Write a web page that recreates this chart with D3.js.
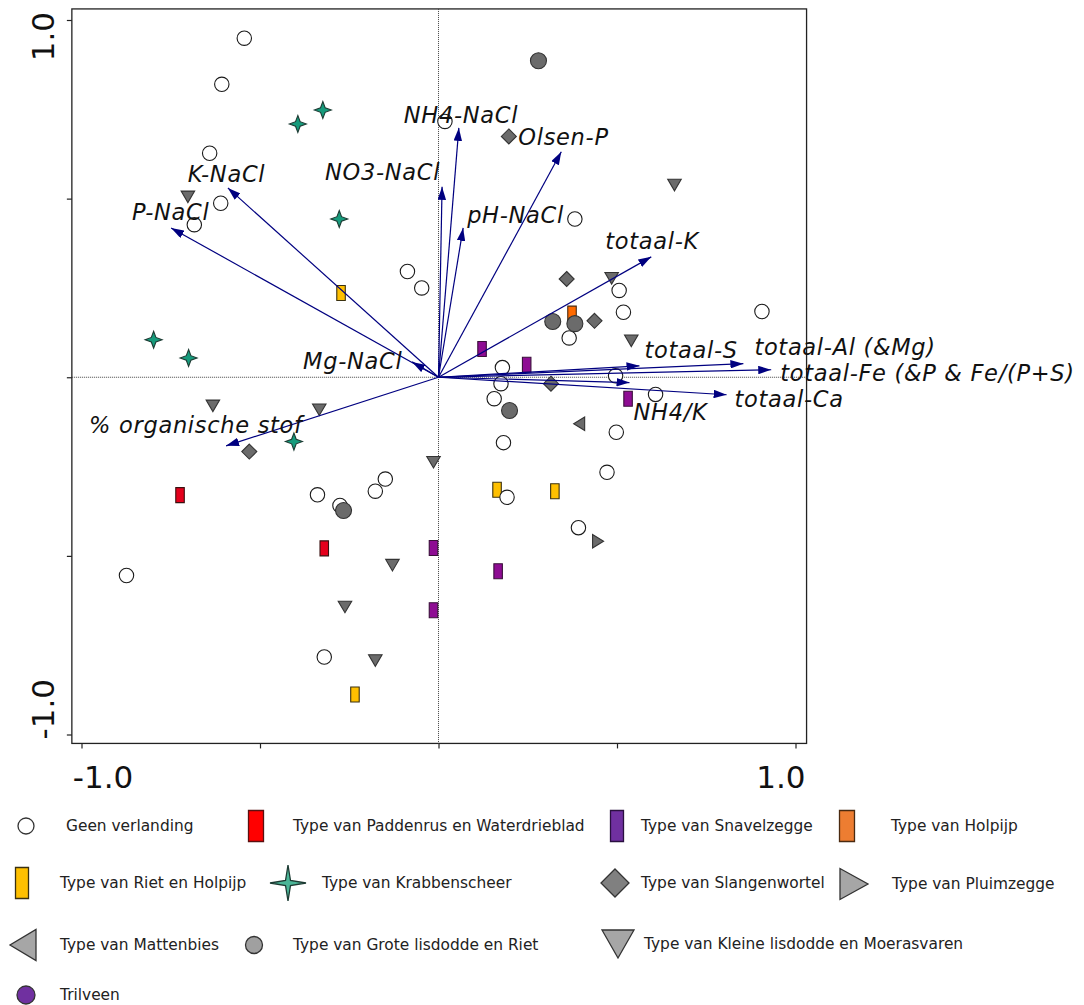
<!DOCTYPE html>
<html>
<head>
<meta charset="utf-8">
<script src="https://cdn.jsdelivr.net/npm/d3@7"></script>
<style>
  html, body { margin: 0; padding: 0; background: #fff; }
  svg { display: block; }
</style>
</head>
<body>
<svg id="chart" width="1084" height="1005"></svg>
<script>
// ---------------- DATA (ordination scores) ----------------
const axisTicks = [-1, -0.5, 0, 0.5, 1];
const axisTickLabels = ["-1.0", "1.0"];

const geenVerlanding = [
  [-0.544, 0.949], [-0.607, 0.820], [-0.641, 0.627], [-0.610, 0.487], [-0.684, 0.427],
  [-0.087, 0.296], [-0.047, 0.250], [0.018, 0.716], [0.382, 0.443], [0.506, 0.243],
  [0.518, 0.182], [0.906, 0.184], [0.366, 0.110], [0.179, 0.027], [0.496, 0.004],
  [0.175, -0.018], [0.156, -0.060], [0.608, -0.048], [0.182, -0.183], [0.498, -0.154],
  [0.472, -0.266], [0.192, -0.336], [0.392, -0.421], [-0.149, -0.285], [-0.177, -0.319],
  [-0.339, -0.329], [-0.276, -0.359], [-0.874, -0.555], [-0.320, -0.783]
];
const paddenrus = [[-0.724, -0.330], [-0.320, -0.479]];
const snavelzegge = [[0.122, 0.079], [0.247, 0.035], [0.531, -0.060], [-0.014, -0.478], [-0.014, -0.652], [0.167, -0.543]];
const holpijp = [[0.374, 0.178]];
const rietHolpijp = [[-0.273, 0.236], [0.164, -0.315], [0.326, -0.319], [-0.234, -0.888]];
const krabbenscheer = [[-0.324, 0.748], [-0.394, 0.709], [-0.278, 0.443], [-0.798, 0.105], [-0.700, 0.054], [-0.405, -0.180]];
const slangenwortel = [[0.197, 0.674], [0.359, 0.275], [0.437, 0.158], [0.315, -0.018], [-0.530, -0.208]];
const pluimzegge = [[0.447, -0.459]];
const mattenbies = [[0.394, -0.130]];
const groteLisdodde = [[0.280, 0.886], [0.320, 0.156], [0.382, 0.150], [0.199, -0.093], [-0.266, -0.373]];
const kleineLisdodde = [
  [-0.702, 0.505], [0.661, 0.538], [0.485, 0.277], [0.540, 0.102], [-0.632, -0.080],
  [-0.334, -0.091], [-0.014, -0.238], [-0.129, -0.526], [-0.262, -0.643], [-0.177, -0.793]
];
const trilveen = [];

const envNames = ["NH4-NaCl", "NO3-NaCl", "pH-NaCl", "Olsen-P", "totaal-K", "totaal-S",
  "totaal-Al (&Mg)", "totaal-Fe (&P & Fe/(P+S)", "totaal-Ca", "NH4/K", "Mg-NaCl",
  "K-NaCl", "P-NaCl", "% organische stof"];
const envX = [0.057, 0.010, 0.069, 0.344, 0.596, 0.563, 0.854, 0.932, 0.807, 0.535, -0.074, -0.590, -0.749, -0.595];
const envY = [0.698, 0.533, 0.418, 0.631, 0.337, 0.032, 0.038, 0.021, -0.049, -0.015, 0.043, 0.530, 0.418, -0.192];

const legendNames = [
  "Geen verlanding", "Type van Paddenrus en Waterdrieblad", "Type van Snavelzegge", "Type van Holpijp",
  "Type van Riet en Holpijp", "Type van Krabbenscheer", "Type van Slangenwortel", "Type van Pluimzegge",
  "Type van Mattenbies", "Type van Grote lisdodde en Riet", "Type van Kleine lisdodde en Moerasvaren",
  "Trilveen"
];

// ---------------- LAYOUT / STYLE ----------------
// label placement: pixel offset of label start/baseline from arrow tip
const labelDx = [-55, -117, 4, -43, -46, 5, 11, 9, 8, 4, -109, -40, -39, -137];
const labelDy = [-5, -7, -5, -7, -8, -8, -9, 11, 12, 37, 7, -6, -8, -13];

const svg = d3.select("#chart");
const x = d3.scaleLinear().domain([-1, 1]).range([81.5, 795.5]);
const y = d3.scaleLinear().domain([-1, 1]).range([734.5, 20]);
const xExt = [-1.027, 1.031], yExt = [-1.025, 1.031];
const fx0 = x(xExt[0]), fx1 = x(xExt[1]), fy0 = y(yExt[1]), fy1 = y(yExt[0]);

// shape generators (centered at 0,0)
const shapes = {
  circle: r => `M${r},0A${r},${r},0,1,1,${-r},0A${r},${r},0,1,1,${r},0Z`,
  rect: (w, h) => `M${-w/2},${-h/2}h${w}v${h}h${-w}Z`,
  diamond: r => `M0,${-r}L${r},0L0,${r}L${-r},0Z`,
  triDown: (w, h) => `M${-w/2},${-h/2}L${w/2},${-h/2}L0,${h/2}Z`,
  triLeft: (w, h) => `M${w/2},${-h/2}L${w/2},${h/2}L${-w/2},0Z`,
  triRight: (w, h) => `M${-w/2},${-h/2}L${-w/2},${h/2}L${w/2},0Z`,
  star: (r, k) => `M0,${-r}L${k},${-k}L${r},0L${k},${k}L0,${r}L${-k},${k}L${-r},0L${-k},${-k}Z`
};

const plotGroups = [
  { data: krabbenscheer, path: shapes.star(8.5, 2.3), fill: "#169b7c", stroke: "#1d3b33" },
  { data: paddenrus, path: shapes.rect(8.5, 15), fill: "#e5001c", stroke: "#3a1010" },
  { data: snavelzegge, path: shapes.rect(8.5, 15), fill: "#8e0c93", stroke: "#3a103a" },
  { data: holpijp, path: shapes.rect(8.5, 15), fill: "#ff6a00", stroke: "#4a2a10" },
  { data: rietHolpijp, path: shapes.rect(8.5, 15), fill: "#ffc000", stroke: "#3a3010" },
  { data: slangenwortel, path: shapes.diamond(7.5), fill: "#6b6b6b", stroke: "#333" },
  { data: kleineLisdodde, path: shapes.triDown(13.5, 11.5), fill: "#6b6b6b", stroke: "#333" },
  { data: pluimzegge, path: shapes.triRight(11, 13.5), fill: "#6b6b6b", stroke: "#333" },
  { data: mattenbies, path: shapes.triLeft(11, 13.5), fill: "#6b6b6b", stroke: "#333" },
  { data: geenVerlanding, path: shapes.circle(7.2), fill: "#fff", stroke: "#1a1a1a" },
  { data: groteLisdodde, path: shapes.circle(8), fill: "#6b6b6b", stroke: "#333" },
  { data: trilveen, path: shapes.circle(8), fill: "#7030a0", stroke: "#333" }
];

// ---------------- FRAME, AXES ----------------
svg.append("rect")
  .attr("x", fx0).attr("y", fy0).attr("width", fx1 - fx0).attr("height", fy1 - fy0)
  .attr("fill", "none").attr("stroke", "#222").attr("stroke-width", 1.3);

const gx = svg.append("g").attr("transform", `translate(0,${fy1})`)
  .call(d3.axisBottom(x).tickValues(axisTicks).tickSize(5).tickFormat(""));
const gy = svg.append("g").attr("transform", `translate(${fx0},0)`)
  .call(d3.axisLeft(y).tickValues(axisTicks).tickSize(5).tickFormat(""));
[gx, gy].forEach(g => {
  g.select(".domain").remove();
  g.selectAll(".tick line").attr("stroke", "#222").attr("stroke-width", 1.2);
});

const axFont = "'DejaVu Sans', Verdana, sans-serif";
// bottom labels: aligned to frame edges
svg.append("text").attr("x", fx0 + 1).attr("y", 788).attr("text-anchor", "start")
  .attr("font-family", axFont).attr("font-size", 31).attr("fill", "#111").text(axisTickLabels[0]);
svg.append("text").attr("x", fx1 - 1).attr("y", 788).attr("text-anchor", "end")
  .attr("font-family", axFont).attr("font-size", 31).attr("fill", "#111").text(axisTickLabels[1]);
// left labels: rotated
svg.append("text").attr("transform", `translate(54,${fy0 + 3}) rotate(-90)`).attr("text-anchor", "end")
  .attr("font-family", axFont).attr("font-size", 31).attr("fill", "#111").text(axisTickLabels[1]);
svg.append("text").attr("transform", `translate(54,${fy1 - 4}) rotate(-90)`).attr("text-anchor", "start")
  .attr("font-family", axFont).attr("font-size", 31).attr("fill", "#111").text(axisTickLabels[0]);

// zero lines
svg.append("line").attr("x1", x(0)).attr("x2", x(0)).attr("y1", fy0).attr("y2", fy1)
  .attr("stroke", "#444").attr("stroke-width", 1).attr("stroke-dasharray", "1,1");
svg.append("line").attr("x1", fx0).attr("x2", fx1).attr("y1", y(0)).attr("y2", y(0))
  .attr("stroke", "#444").attr("stroke-width", 1).attr("stroke-dasharray", "1,1");

// ---------------- SAMPLE POINTS ----------------
plotGroups.forEach(g => {
  svg.append("g").selectAll("path").data(g.data).join("path")
    .attr("transform", d => `translate(${x(d[0])},${y(d[1])})`)
    .attr("d", g.path).attr("fill", g.fill).attr("stroke", g.stroke).attr("stroke-width", 1.1);
});

// ---------------- ARROWS ----------------
svg.append("defs").append("marker")
  .attr("id", "ah").attr("viewBox", "0 0 13 8.5").attr("refX", 13).attr("refY", 4.25)
  .attr("markerWidth", 13).attr("markerHeight", 8.5).attr("markerUnits", "userSpaceOnUse")
  .attr("orient", "auto")
  .append("path").attr("d", "M0,0L13,4.25L0,8.5Z").attr("fill", "#000080");

const env = envNames.map((n, i) => ({ name: n, x: envX[i], y: envY[i], dx: labelDx[i], dy: labelDy[i] }));
svg.append("g").selectAll("line").data(env).join("line")
  .attr("x1", x(0)).attr("y1", y(0))
  .attr("x2", d => x(d.x)).attr("y2", d => y(d.y))
  .attr("stroke", "#000080").attr("stroke-width", 1.2).attr("marker-end", "url(#ah)");

svg.append("g").selectAll("text").data(env).join("text")
  .attr("x", d => x(d.x) + d.dx).attr("y", d => y(d.y) + d.dy)
  .attr("font-family", axFont).attr("font-style", "italic").attr("font-size", 22.5)
  .attr("letter-spacing", 0.7)
  .attr("fill", "#111").text(d => d.name);

// ---------------- LEGEND ----------------
const legendStyle = [
  { path: shapes.circle(8), fill: "#fff", stroke: "#333" },
  { path: shapes.rect(15, 31), fill: "#ff0000", stroke: "#5a1010" },
  { path: shapes.rect(13, 31), fill: "#7030a0", stroke: "#2a1040" },
  { path: shapes.rect(15, 31), fill: "#ed7d31", stroke: "#4a2a10" },
  { path: shapes.rect(13, 31), fill: "#ffc000", stroke: "#3a3010" },
  { path: shapes.star(18, 2.5), fill: "#4bb597", stroke: "#1d3b33" },
  { path: shapes.diamond(14), fill: "#808080", stroke: "#333" },
  { path: shapes.triRight(28, 31), fill: "#a6a6a6", stroke: "#333" },
  { path: shapes.triLeft(26, 31), fill: "#a6a6a6", stroke: "#333" },
  { path: shapes.circle(8.5), fill: "#a0a0a0", stroke: "#333" },
  { path: shapes.triDown(32, 28), fill: "#a6a6a6", stroke: "#333" },
  { path: shapes.circle(9), fill: "#7030a0", stroke: "#333" }
];
const legendSymX = [26, 256, 617, 847, 22, 288, 615, 854, 23, 254, 618, 26];
const legendSymY = [826, 826, 826, 826, 883, 883, 883, 884, 945, 945, 944, 995];
const legendTxtX = [66, 293, 641, 891, 60, 322, 641, 892, 60, 293, 644, 60];

const lg = svg.append("g");
legendNames.forEach((n, i) => {
  const s = legendStyle[i];
  lg.append("path").attr("transform", `translate(${legendSymX[i]},${legendSymY[i]})`)
    .attr("d", s.path).attr("fill", s.fill).attr("stroke", s.stroke).attr("stroke-width", 1.3);
  lg.append("text").attr("x", legendTxtX[i]).attr("y", legendSymY[i] + 5)
    .attr("font-family", axFont).attr("font-size", 15.4).attr("fill", "#222").text(n);
});
</script>
</body>
</html>
